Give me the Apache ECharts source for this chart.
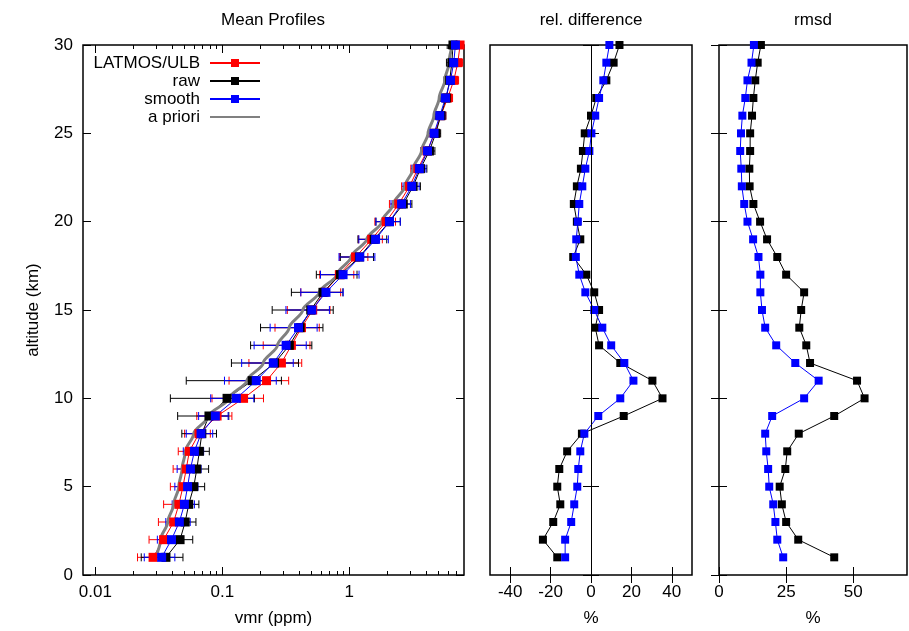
<!DOCTYPE html>
<html>
<head>
<meta charset="utf-8">
<script src="https://cdn.jsdelivr.net/npm/echarts@6/dist/echarts.min.js"></script>
<style>
html,body{margin:0;padding:0;background:#fff;}
#c{width:909px;height:631px;}
</style>
</head>
<body>
<div id="c"></div>
<script>
// ---------- data ----------
const altitudes = [1,2,3,4,5,6,7,8,9,10,11,12,13,14,15,16,17,18,19,20,21,22,23,24,25,26,27,28,29,30];

const latmos = [0.0285,0.0345,0.0414,0.0455,0.049,0.052,0.055,0.0655,0.091,0.147,0.223,0.292,0.35,0.42,0.515,0.635,0.835,1.12,1.5,1.95,2.45,2.98,3.47,4.1,4.7,5.25,5.95,6.65,7.15,7.45];
const latmosErr = [0.007,0.008,0.010,0.011,0.010,0.011,0.010,0.015,0.028,0.064,0.11,0.13,0.14,0.16,0.19,0.22,0.25,0.28,0.32,0.36,0.38,0.40,0.42,0.45,0.45,0.5,0.55,0.6,0.65,0.7];

const raw = [0.036,0.0465,0.051,0.0544,0.0596,0.063,0.066,0.069,0.0785,0.109,0.172,0.258,0.337,0.41,0.497,0.62,0.85,1.2,1.57,2.07,2.66,3.18,3.63,4.27,4.79,5.25,5.8,6.17,6.42,6.55];
const rawErr = [0.013,0.012,0.011,0.011,0.013,0.015,0.013,0.021,0.034,0.07,0.12,0.14,0.17,0.21,0.25,0.27,0.3,0.35,0.4,0.45,0.45,0.45,0.45,0.45,0.45,0.5,0.55,0.6,0.6,0.65];

const smooth = [0.0333,0.0398,0.0459,0.0503,0.0533,0.0561,0.0603,0.068,0.0881,0.129,0.185,0.252,0.318,0.398,0.507,0.655,0.893,1.21,1.61,2.07,2.58,3.1,3.56,4.13,4.65,5.16,5.72,6.26,6.64,6.85];
const smoothErr = [0.009,0.009,0.010,0.010,0.011,0.012,0.011,0.016,0.023,0.048,0.081,0.11,0.14,0.16,0.19,0.24,0.3,0.38,0.42,0.45,0.45,0.45,0.45,0.45,0.45,0.5,0.55,0.6,0.6,0.65];

const apriori = [0.0298,0.0326,0.0372,0.0414,0.0454,0.0482,0.0512,0.0595,0.078,0.113,0.156,0.21,0.272,0.336,0.43,0.58,0.796,1.03,1.37,1.8,2.22,2.74,3.18,3.7,4.17,4.63,5.1,5.65,6.1,6.49];

const relDiffRaw = [-16.7,-23.8,-18.7,-15.2,-16.7,-15.7,-11.8,-4.5,16.2,35.4,30.4,14.5,4.0,2.1,4.0,1.6,-2.3,-8.8,-5.3,-7.0,-8.5,-7.0,-5.0,-4.0,-3.1,0.0,2.6,7.6,11.2,14.1];
const relDiffSmooth = [-12.8,-12.8,-9.8,-8.3,-6.8,-6.3,-5.3,-3.3,3.6,14.5,21.0,16.5,10.0,5.6,1.6,-2.8,-5.8,-7.5,-7.3,-6.5,-5.8,-4.3,-2.8,-0.8,0.2,2.1,4.0,6.1,7.6,9.1];

const rmsdRaw = [42.9,29.5,25.0,23.4,22.6,24.7,25.4,29.7,42.9,54.2,51.4,33.9,32.5,29.9,30.6,31.7,25.0,21.7,17.9,15.3,12.8,11.4,11.3,11.6,11.6,12.3,12.8,13.5,14.4,15.6];
const rmsdSmooth = [23.9,21.7,21.0,20.2,18.7,18.3,17.6,17.2,19.8,31.7,37.1,28.4,21.3,17.2,16.0,15.4,15.4,14.7,12.7,10.6,9.4,8.5,8.3,7.9,8.2,8.7,9.8,10.6,12.1,13.0];

const vmrMajorTicks = [0.01,0.1,1];
const vmrMinorTicks = [0.02,0.03,0.04,0.05,0.06,0.07,0.08,0.09,0.2,0.3,0.4,0.5,0.6,0.7,0.8,0.9,2,3,4,5,6,7];
const relTicks = [-40,-20,0,20,40];
const rmsdTicks = [0,25,50];
const altTicks = [0,5,10,15,20,25,30];

const titles = ['Mean Profiles','rel. difference','rmsd'];
const legendNames = ['LATMOS/ULB','raw','smooth','a priori'];

// ---------- helpers ----------
const FONT = 'Liberation Sans';
const txt = {fontFamily: FONT, fontSize: 17, color: '#000'};
const pairs = (xs) => xs.map((v, i) => [v, altitudes[i]]);
const errData = (xs, es) => xs.map((v, i) => [v - es[i], v + es[i], altitudes[i]]);

function errRender(color) {
  return function (params, api) {
    const y = api.value(2);
    const lo = api.coord([api.value(0), y]);
    const hi = api.coord([api.value(1), y]);
    const h = 4;
    const st = {stroke: color, lineWidth: 1};
    return {
      type: 'group',
      children: [
        {type: 'line', shape: {x1: lo[0], y1: lo[1], x2: hi[0], y2: hi[1]}, style: st},
        {type: 'line', shape: {x1: lo[0], y1: lo[1] - h, x2: lo[0], y2: lo[1] + h}, style: st},
        {type: 'line', shape: {x1: hi[0], y1: hi[1] - h, x2: hi[0], y2: hi[1] + h}, style: st}
      ]
    };
  };
}

const grids = [
  {left: 83, top: 45, width: 381, height: 530},
  {left: 490, top: 45, width: 202, height: 530},
  {left: 719, top: 45, width: 188, height: 530}
].map(g => Object.assign(g, {show: true, borderColor: '#000', borderWidth: 1.5, backgroundColor: 'transparent',
  containLabel: false, outerBoundsMode: 'none'}));

const tickBase = (len, vals) => ({show: true, inside: true, length: len, customValues: vals, lineStyle: {color: '#000', width: 1}});
const noLabel = {show: false};

function logAxis(pos, ticks, len, labels) {
  return {
    type: 'log', gridIndex: 0, position: pos, min: 0.008, max: 8, logBase: 10,
    axisLine: {show: false}, splitLine: {show: false},
    axisTick: tickBase(len, ticks),
    axisLabel: labels ? Object.assign({show: true, margin: 9, customValues: vmrMajorTicks,
      formatter: v => (v >= 1 ? String(Math.round(v)) : String(+v.toPrecision(1)))}, txt) : noLabel
  };
}

const xAxes = [
  Object.assign(logAxis('bottom', vmrMajorTicks, 8, true), {name: 'vmr (ppm)', nameLocation: 'middle', nameGap: 35, nameTextStyle: txt}),
  logAxis('bottom', vmrMinorTicks, 4, false),
  logAxis('top', vmrMajorTicks, 8, false),
  logAxis('top', vmrMinorTicks, 4, false),
  {type: 'value', gridIndex: 1, position: 'bottom', min: -50, max: 50,
   axisLine: {show: false}, splitLine: {show: false}, axisTick: tickBase(8, relTicks),
   axisLabel: Object.assign({margin: 9, customValues: relTicks}, txt),
   name: '%', nameLocation: 'middle', nameGap: 35, nameTextStyle: txt},
  {type: 'value', gridIndex: 1, position: 'top', min: -50, max: 50,
   axisLine: {show: false}, splitLine: {show: false}, axisTick: tickBase(8, relTicks), axisLabel: noLabel},
  {type: 'value', gridIndex: 2, position: 'bottom', min: 0, max: 70,
   axisLine: {show: false}, splitLine: {show: false}, axisTick: tickBase(8, rmsdTicks),
   axisLabel: Object.assign({margin: 9, customValues: rmsdTicks}, txt),
   name: '%', nameLocation: 'middle', nameGap: 35, nameTextStyle: txt},
  {type: 'value', gridIndex: 2, position: 'top', min: 0, max: 70,
   axisLine: {show: false}, splitLine: {show: false}, axisTick: tickBase(8, rmsdTicks), axisLabel: noLabel}
];

function altAxis(gi, pos, labels) {
  const a = {type: 'value', gridIndex: gi, position: pos, min: 0, max: 30,
    axisLine: {show: false}, splitLine: {show: false}, axisTick: tickBase(8, altTicks),
    axisLabel: labels ? Object.assign({margin: 10, customValues: altTicks}, txt) : noLabel};
  if (labels) Object.assign(a, {name: 'altitude (km)', nameLocation: 'middle', nameGap: 41, nameRotate: 90, nameTextStyle: txt});
  return a;
}
const yAxes = [altAxis(0, 'left', true), altAxis(0, 'right', false), altAxis(1, 'left', false), altAxis(1, 'right', false), altAxis(2, 'left', false), altAxis(2, 'right', false)];

function lineSeries(name, data, color, xi, yi, size) {
  return {type: 'line', name, data, xAxisIndex: xi, yAxisIndex: yi, symbol: 'rect', symbolSize: size,
    showSymbol: true, color, itemStyle: {color}, lineStyle: {color, width: 1}, animation: false, silent: true};
}
function errSeries(name, data, color) {
  return {type: 'custom', name, data, xAxisIndex: 0, yAxisIndex: 0, encode: {x: [0, 1], y: 2},
    renderItem: errRender(color), animation: false, silent: true, clip: true};
}

const series = [
  errSeries('err latmos', errData(latmos, latmosErr), '#ff0000'),
  lineSeries(legendNames[0], pairs(latmos), '#ff0000', 0, 0, 9),
  errSeries('err raw', errData(raw, rawErr), '#000000'),
  lineSeries(legendNames[1], pairs(raw), '#000000', 0, 0, 9),
  errSeries('err smooth', errData(smooth, smoothErr), '#0000ff'),
  lineSeries(legendNames[2], pairs(smooth), '#0000ff', 0, 0, 9),
  {type: 'line', name: legendNames[3], data: pairs(apriori), xAxisIndex: 0, yAxisIndex: 0,
   symbol: 'rect', showSymbol: false, smooth: 0.3, smoothMonotone: 'y', color: '#808080',
   lineStyle: {color: '#808080', width: 3}, animation: false, silent: true},
  lineSeries('raw', pairs(relDiffRaw), '#000000', 4, 2, 8),
  Object.assign(lineSeries('smooth', pairs(relDiffSmooth), '#0000ff', 4, 2, 8), {
    markLine: {silent: true, symbol: ['none', 'none'], label: {show: false},
      lineStyle: {color: '#000', width: 1, type: 'solid'}, data: [{xAxis: 0}], animation: false}
  }),
  lineSeries('raw', pairs(rmsdRaw), '#000000', 6, 4, 8),
  lineSeries('smooth', pairs(rmsdSmooth), '#0000ff', 6, 4, 8)
];

const chart = echarts.init(document.getElementById('c'), null, {renderer: 'canvas'});
chart.setOption({
  animation: false,
  backgroundColor: '#fff',
  textStyle: {fontFamily: FONT},
  title: [
    {text: titles[0], left: 273, top: 12, textAlign: 'center', padding: 0, textStyle: Object.assign({fontWeight: 'normal'}, txt)},
    {text: titles[1], left: 591, top: 12, textAlign: 'center', padding: 0, textStyle: Object.assign({fontWeight: 'normal'}, txt)},
    {text: titles[2], left: 813, top: 12, textAlign: 'center', padding: 0, textStyle: Object.assign({fontWeight: 'normal'}, txt)}
  ],
  legend: {
    show: true, orient: 'vertical', align: 'right', right: 648, top: 54, padding: 0,
    itemWidth: 50, itemHeight: 10, itemGap: 0,
    textStyle: Object.assign({lineHeight: 18, padding: [0, 5, 0, 0]}, txt),
    selectedMode: false,
    data: [
      {name: legendNames[0]}, {name: legendNames[1]}, {name: legendNames[2]},
      {name: legendNames[3], itemStyle: {opacity: 0}}
    ]
  },
  grid: grids,
  xAxis: xAxes,
  yAxis: yAxes,
  series
});
</script>
</body>
</html>
